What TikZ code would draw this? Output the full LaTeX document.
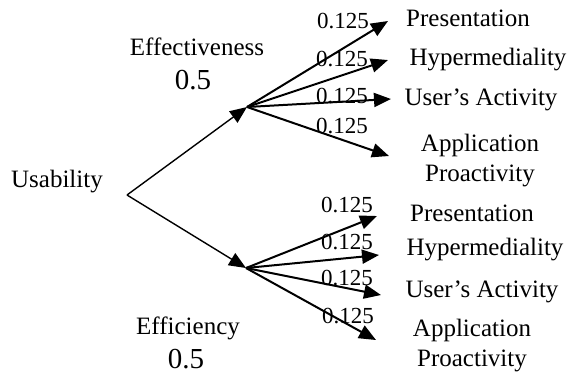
\documentclass[tikz,border=0pt]{standalone}
\usepackage{fontspec}
\setmainfont{Liberation Serif}
\usetikzlibrary{arrows.meta}

\begin{document}
\begin{tikzpicture}[x=0.5pt,y=-0.5pt,>={Triangle[length=8.5pt,width=7pt]}]
\tikzstyle{every node}=[font=\fontsize{12.5}{15}\selectfont,align=center,inner sep=0pt]
\tikzstyle{weight}=[font=\fontsize{11.5}{13}\selectfont]
\tikzstyle{share}=[font=\fontsize{14.5}{17}\selectfont]
\tikzstyle{edge}=[->,line width=1pt]
\useasboundingbox (0,0) rectangle (568,372);

% root and the two sub-characteristics
\coordinate (root) at (127,195);
\coordinate (eff) at (247,107);
\coordinate (effy) at (246,268);
\node (usab) at (57,182) {Usability};
\node (effname) at (197,47) {Effectiveness};
\node[share] (effval) at (193,80) {0.5};
\node (effyname) at (188,328) {Efficiency};
\node[share] (effyval) at (186,359) {0.5};
\draw[edge,line width=0.7pt] (root) -- (eff);
\draw[edge,line width=0.7pt] (root) -- (effy);

% attributes under effectiveness
\coordinate (p1) at (388,21);
\coordinate (h1) at (388,60);
\coordinate (u1) at (391,99);
\coordinate (a1) at (389,156);
\node (pres1) at (468,18) {Presentation};
\node (hyp1) at (488,60) {Hypermediality};
\node (act1) at (481,100) {User's Activity};
\node (pro1) at (480,161) {Application\\Proactivity};
\draw[edge] (eff) -- (p1);
\draw[edge] (eff) -- (h1);
\draw[edge] (eff) -- (u1);
\draw[edge] (eff) -- (a1);
\node[weight] (w1) at (343,21) {0.125};
\node[weight] (w2) at (342,59) {0.125};
\node[weight] (w3) at (342,96) {0.125};
\node[weight] (w4) at (342,126) {0.125};

% attributes under efficiency
\coordinate (p2) at (377,216);
\coordinate (h2) at (379,255);
\coordinate (u2) at (381,295);
\coordinate (a2) at (376,340);
\node (pres2) at (472,213) {Presentation};
\node (hyp2) at (485,250) {Hypermediality};
\node (act2) at (482,292) {User's Activity};
\node (pro2) at (472,346) {Application\\Proactivity};
\draw[edge] (effy) -- (p2);
\draw[edge] (effy) -- (h2);
\draw[edge] (effy) -- (u2);
\draw[edge] (effy) -- (a2);
\node[weight] (w5) at (347,205) {0.125};
\node[weight] (w6) at (347,242) {0.125};
\node[weight] (w7) at (347,278) {0.125};
\node[weight] (w8) at (348,316) {0.125};
\end{tikzpicture}
\end{document}
